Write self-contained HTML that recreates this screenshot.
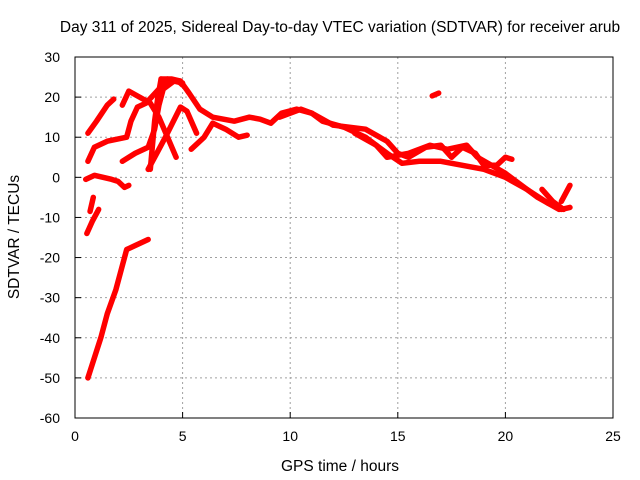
<!DOCTYPE html>
<html><head><meta charset="utf-8"><style>
body{margin:0;background:#fff;}
svg{display:block;font-family:"Liberation Sans",sans-serif;}
</style></head><body>
<svg id="chart" width="640" height="480">
<text x="340" y="32" font-size="15.5" text-anchor="middle">Day 311 of 2025, Sidereal Day-to-day VTEC variation (SDTVAR) for receiver arub</text>
<text x="340" y="471" font-size="15.5" text-anchor="middle">GPS time / hours</text>
<text x="19" y="237" font-size="15.5" text-anchor="middle" transform="rotate(-90 19 237)">SDTVAR / TECUs</text>
<g id="grid"></g><g id="ticks"></g><g id="series"></g>
<rect x="75" y="57" width="538" height="361" fill="none" stroke="#000" stroke-width="1"/>
</svg>
<script>
const xTicks=[0,5,10,15,20,25];
const yTicks=[30,20,10,0,-10,-20,-30,-40,-50,-60];
const trackA=[[0.6,-50],[0.9,-45],[1.2,-40],[1.5,-34],[1.9,-28],[2.2,-22],[2.4,-18],[2.8,-17],[3.4,-15.5]];
const trackB=[[0.55,-14],[0.8,-11],[1.1,-8]];
const trackB2=[[0.7,-8.5],[0.85,-5]];
const trackC=[[0.5,-0.5],[0.9,0.5],[1.3,0],[1.7,-0.5],[2.0,-1],[2.3,-2.5],[2.5,-2]];
const trackD=[[0.6,11],[1.0,14],[1.5,18],[1.8,19.5]];
const trackE=[[0.6,4],[0.9,7.5],[1.5,9],[2.4,10],[2.6,14],[2.9,17.5],[3.3,18.5],[3.9,22],[4.3,24.5],[4.8,24],[5.0,23]];
const trackF=[[2.2,4],[2.8,6],[3.4,7.5],[3.7,12],[3.9,18],[4.1,22],[4.6,24],[5.0,23.5]];
const trackG=[[3.5,2],[3.7,14],[3.85,20],[4.0,24.5],[4.5,24.5],[4.9,24]];
const trackH=[[3.4,2],[3.8,6],[4.2,10],[4.9,17.5],[5.2,16.5],[5.65,11]];
const trackI=[[2.2,18],[2.5,21.5],[3.0,20],[3.5,18.5],[3.9,15],[4.3,10],[4.7,5]];
const trackJ=[[4.0,24.5],[4.9,24],[5.3,21],[5.8,17],[6.4,15],[7.4,14],[8.1,15],[8.6,14.5],[9.1,13.5],[9.6,16],[10.3,17],[11,16]];
const trackK=[[5.4,7],[6.0,10],[6.4,13.5],[7.0,12],[7.6,10],[8.0,10.5]];
const trackL=[[9.5,15],[10.5,17],[11,16],[11.5,14],[12.5,12.5],[13.5,10],[14.5,6],[15.2,3.5],[16,4],[17,4],[18,3],[19,2],[20,0],[21,-3],[22,-6.5],[22.6,-8],[23,-7.5]];
const trackM=[[11,16],[12,13],[13.5,12],[14.5,9],[15,6],[15.5,5],[16.3,7.5],[17,8],[17.5,5],[18,7.5],[18.6,6],[19,3],[19.6,3],[20,5],[20.3,4.5]];
const trackN=[[13,11],[14,8],[14.5,5],[15.5,6],[16.5,8],[17.3,7],[18.2,8],[18.7,5],[20,1],[21.5,-5],[22.5,-8]];
const trackO=[[21.7,-3],[22.2,-6],[22.7,-8]];
const trackP=[[22.6,-6],[23,-2]];
const trackQ=[[16.6,20.3],[16.9,21]];
const tracks=[trackA,trackB,trackB2,trackC,trackD,trackE,trackF,trackG,trackH,trackI,trackJ,trackK,trackL,trackM,trackN,trackO,trackP,trackQ];
const X0=75,X1=613,Y0=418,Y1=57;
const xs=v=>X0+(v-0)/(25-0)*(X1-X0);
const ys=v=>Y0-(v+60)/(90)*(Y0-Y1);
const NS='http://www.w3.org/2000/svg';
const grid=document.getElementById('grid'),ticks=document.getElementById('ticks'),ser=document.getElementById('series');
function mk(t,a,p){const e=document.createElementNS(NS,t);for(const k in a)e.setAttribute(k,a[k]);p.appendChild(e);return e;}
xTicks.forEach(v=>{const x=xs(v);
 if(v>0&&v<25){const g=mk('line',{x1:x,x2:x,y1:Y1,y2:Y0,stroke:'#a0a0a0','stroke-dasharray':'2,3'},grid);
 
 }
 const t=mk('line',{x1:x,x2:x,y1:Y0,y2:Y0-6,stroke:'#000'},ticks);
 
 
 const l=mk('text',{x:x,y:Y0+23,'font-size':14,'text-anchor':'middle'},ticks);l.textContent=v;
 
 
});
yTicks.forEach(v=>{const y=ys(v);
 if(v>-60&&v<30){const g=mk('line',{x1:X0,x2:X1,y1:y,y2:y,stroke:'#a0a0a0','stroke-dasharray':'2,3'},grid);
 
 }
 const t=mk('line',{x1:X0,x2:X0+6,y1:y,y2:y,stroke:'#000'},ticks);
 
 
 const l=mk('text',{x:X0-15,y:y+5,'font-size':14,'text-anchor':'end'},ticks);l.textContent=v;
 
 
});
tracks.forEach(tr=>{
 const p=mk('polyline',{points:tr.map(d=>xs(d[0])+','+ys(d[1])).join(' '),fill:'none',stroke:'#ff0000','stroke-width':5.5,'stroke-linejoin':'round','stroke-linecap':'round'},ser);
 
 
});
</script>
</body></html>
